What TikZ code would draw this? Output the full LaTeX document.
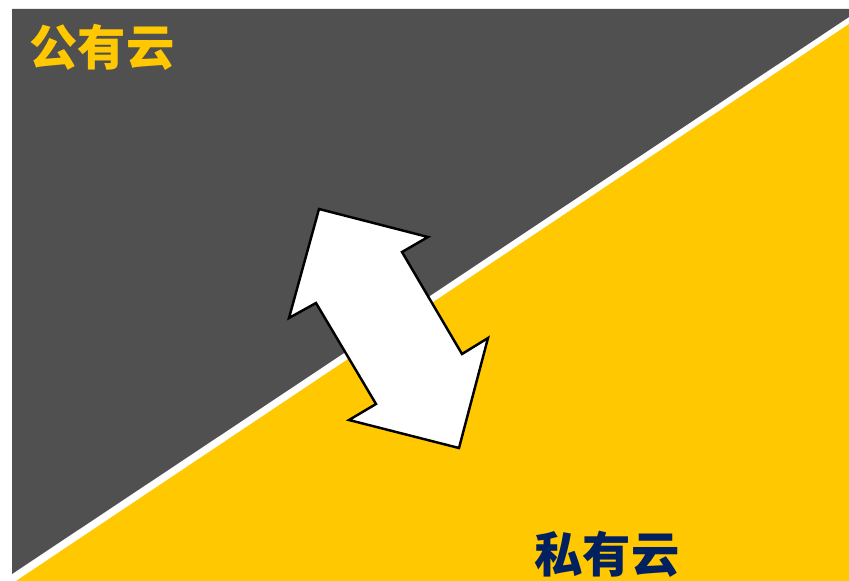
\documentclass[tikz,border=0pt]{standalone}
\usepackage{fontspec}
\usepackage{xcolor}
\newfontfamily\cjk{Noto Sans CJK SC}
\definecolor{CloudGray}{HTML}{505050}
\definecolor{CloudYellow}{HTML}{FFC800}
\definecolor{CloudNavy}{HTML}{002060}
\tikzset{label cloud/.style={font=\cjk\bfseries\fontsize{27.5}{27.5}\selectfont, inner sep=0pt}}

\begin{document}
\begin{tikzpicture}[x=0.02cm, y=-0.02cm]
        \useasboundingbox (0,0) rectangle (849,581);
        % public side and private side
        \fill[CloudGray] (12,9) -- (849,9) -- (849,17) -- (12,574) -- cycle;
        \fill[CloudYellow] (849,24) -- (849,581) -- (16,581) -- cycle;

        \draw[line width=1.4pt, fill=white, line join=miter] (319,209) -- (428,237) -- (402,252) -- (462,354) -- (488,338) -- (459,448) -- (349,420) -- (376,404) -- (316,303) -- (289,318) -- cycle;

        \node[label cloud, text=CloudYellow] (pub) at (102,47) {公有云};
        \node[label cloud, text=CloudNavy] (priv) at (607,554) {私有云};
    \end{tikzpicture}
\end{document}
